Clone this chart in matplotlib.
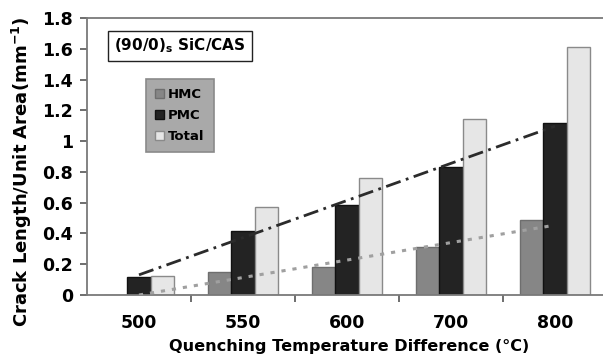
import numpy as np
import matplotlib
matplotlib.use("Agg")
import matplotlib.pyplot as plt
from matplotlib.patches import Patch

plt.rcParams["font.family"] = ["DejaVu Sans"]
plt.rcParams["font.weight"] = "bold"
plt.rcParams["lines.scale_dashes"] = False

temps = ["500", "550", "600", "700", "800"]
hmc = [0.0, 0.15, 0.185, 0.315, 0.485]
pmc = [0.12, 0.415, 0.585, 0.83, 1.12]
total = [0.125, 0.57, 0.76, 1.145, 1.61]
y_ticks = [0, 0.2, 0.4, 0.6, 0.8, 1.0, 1.2, 1.4, 1.6, 1.8]

series = [
    ("HMC", hmc, "#868686", "#6e6e6e"),
    ("PMC", pmc, "#232323", "#111111"),
    ("Total", total, "#e6e6e6", "#8a8a8a"),
]

fig = plt.figure(figsize=(6.03, 3.58), dpi=100)
ax = fig.add_axes([87 / 603, 1 - 295 / 358, 520 / 603, 277 / 358])

x = np.arange(len(temps))
w = 0.224
for k, (name, vals, face, edge) in enumerate(series):
    ax.bar(x + (k - 1) * w, vals, width=w, color=face, edgecolor=edge,
           linewidth=1.0, zorder=2)

# linear trend lines (PMC dash-dot, HMC dotted)
p_fit = np.polyfit(x, pmc, 1)
h_fit = np.polyfit(x, hmc, 1)
ax.plot(x, np.polyval(p_fit, x), color="#2b2b2b", linewidth=2.0,
        dashes=(11, 4, 2, 4), zorder=3)
ax.plot(x, np.polyval(h_fit, x), color="#a0a0a0", linewidth=2.2,
        dashes=(3, 5), zorder=3)

ax.set_xlim(-0.5, len(temps) - 0.5)
ax.set_ylim(0, 1.8)
ax.set_yticks(y_ticks)
ax.set_yticklabels([f"{v:g}" for v in y_ticks])
ax.set_xticks(x)
ax.set_xticklabels(temps)
ax.set_xticks(np.arange(0.5, len(temps) - 0.5), minor=True)
ax.tick_params(axis="x", which="major", length=0, pad=14, labelsize=12.5)
ax.tick_params(axis="x", which="minor", length=5, width=1.2, color="#555555")
ax.tick_params(axis="y", length=5, width=1.2, color="#555555", pad=5,
               labelsize=12.5)

for side in ["left", "bottom", "top"]:
    ax.spines[side].set_color("#7a7a7a")
    ax.spines[side].set_linewidth(1.3)
ax.spines["right"].set_visible(False)

fig.text(22 / 603, 1 - 172 / 358, "Crack Length/Unit Area(mm$^{\\mathbf{-1}}$)",
         rotation=90, ha="center", va="center", fontsize=13, fontweight="bold")
fig.text(349 / 603, 1 - 347 / 358, "Quenching Temperature Difference (°C)",
         ha="center", va="center", fontsize=11.6, fontweight="bold")

fig.text(180 / 603, 1 - 46 / 358, "(90/0)$_\\mathbf{s}$ SiC/CAS",
         ha="center", va="center", fontsize=11, fontweight="bold",
         bbox=dict(boxstyle="square,pad=0.38", facecolor="white",
                   edgecolor="#222222", linewidth=1.0))

handles = [Patch(facecolor=f, edgecolor=e, label=n) for n, _, f, e in series]
leg = fig.legend(handles=handles, loc="upper left",
                 bbox_to_anchor=(146 / 603, 1 - 79 / 358),
                 prop=dict(size=9.5, weight="bold"), frameon=True,
                 fancybox=False, handlelength=0.65, handleheight=0.65,
                 handletextpad=0.3, labelspacing=0.6, borderpad=0.7,
                 borderaxespad=0)
leg.get_frame().set_facecolor("#a9a9a9")
leg.get_frame().set_edgecolor("#8a8a8a")
leg.get_frame().set_linewidth(1.2)
leg.get_frame().set_alpha(1)

fig.savefig("out.png", dpi=100)
